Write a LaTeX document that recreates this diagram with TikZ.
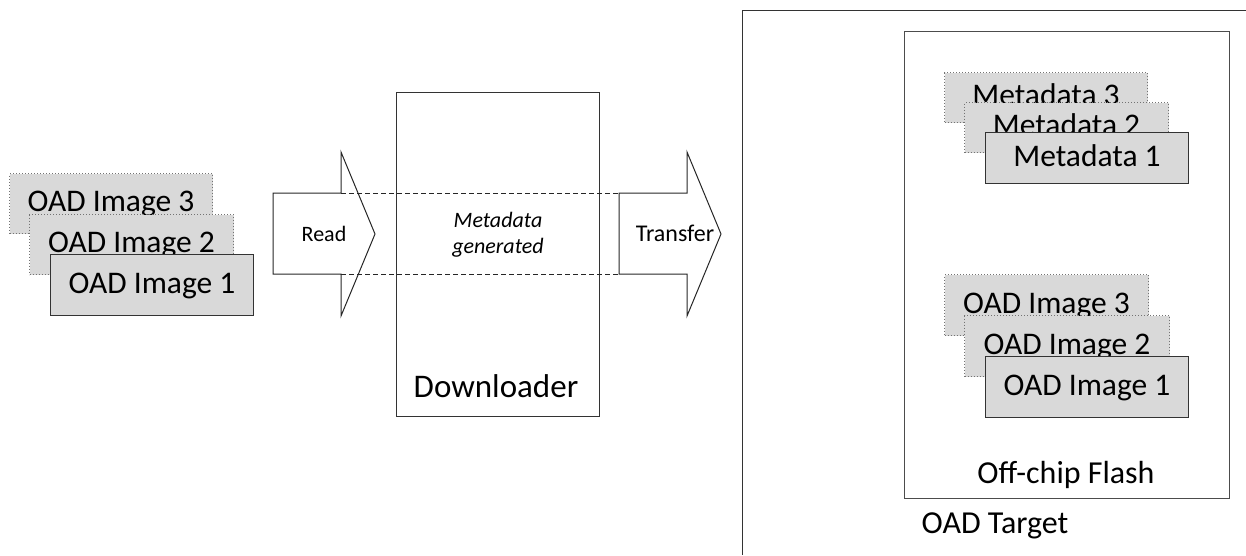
\documentclass[tikz,border=0pt]{standalone}
\usepackage{fontspec}
\setmainfont{Carlito}
\begin{document}
\begin{tikzpicture}[x=1pt,y=-1pt,
  line width=1pt,
  frontbox/.style={draw=black!80, fill=black!15, anchor=north west, inner sep=0pt,
     font=\fontsize{31.5}{36}\selectfont, text height=20pt, text depth=4pt},
  backbox/.style={frontbox, draw=black!55, dotted, line width=1pt},
  plainbox/.style={draw=black!80, anchor=north west, inner sep=0pt},
  lbl/.style={inner sep=0pt, font=\fontsize{32}{36}\selectfont},
  small/.style={inner sep=0pt, font=\fontsize{22}{26}\selectfont}
]
\useasboundingbox (0,0) rectangle (1246,555);

% left stack
\node[backbox, minimum width=203pt, minimum height=60pt] (l3) at (9,173) {OAD Image 3};
\node[backbox, minimum width=204pt, minimum height=60pt] (l2) at (29,214) {OAD Image 2};
\node[frontbox, minimum width=203pt, minimum height=61pt] (l1) at (50,254) {OAD Image 1};

% downloader
\node[plainbox, minimum width=203pt, minimum height=324pt] (dl) at (396,92) {};
\node[lbl, anchor=base, font=\fontsize{33}{36}\selectfont] (dltext) at (496,397) {Downloader};

% read arrow
\coordinate (ra) at (273,193);
\coordinate (rb) at (341,193);
\coordinate (rc) at (341,152);
\coordinate (rtip) at (375,234);
\coordinate (rd) at (341,316);
\coordinate (re) at (341,274);
\coordinate (rf) at (273,274);
\draw[black!85] (ra) -- (rb) -- (rc) -- (rtip) -- (rd) -- (re) -- (rf) -- cycle;
\node[small, anchor=base] (read) at (324,241) {Read};

% transfer arrow
\coordinate (ta) at (619,193);
\coordinate (tb) at (687,193);
\coordinate (tc) at (687,152);
\coordinate (ttip) at (721,234);
\coordinate (td) at (687,316);
\coordinate (te) at (687,274);
\coordinate (tf) at (619,274);
\draw[black!85] (ta) -- (tb) -- (tc) -- (ttip) -- (td) -- (te) -- (tf) -- cycle;
\node[small, anchor=base, font=\fontsize{24}{26}\selectfont] (transfer) at (675,241) {Transfer};

% dashed links
\draw[black!85, dash pattern=on 5pt off 3pt] (rb) -- (ta);
\draw[black!85, dash pattern=on 5pt off 3pt] (re) -- (tf);
\node[small, align=center, font=\fontsize{22}{26}\selectfont\itshape] (meta) at (498,235) {Metadata\\generated};

% OAD target
\draw[black!80] (1246,10) -- (742,10) -- (742,555);
\node[lbl, anchor=base] (target) at (995,533) {OAD Target};

% off-chip flash
\node[plainbox, draw=black!70, minimum width=325pt, minimum height=467pt] (flash) at (904,31) {};
\node[lbl, anchor=base] (flashtext) at (1066,483) {Off-chip Flash};

% metadata stack
\node[backbox, minimum width=203pt, minimum height=50pt] (m3) at (944,72) {Metadata 3};
\node[backbox, minimum width=204pt, minimum height=50pt] (m2) at (964,102) {Metadata 2};
\node[frontbox, minimum width=203pt, minimum height=51pt] (m1) at (985,132) {Metadata 1};

% image stack in flash
\node[backbox, minimum width=204pt, minimum height=61pt] (r3) at (944,274) {OAD Image 3};
\node[backbox, minimum width=205pt, minimum height=61pt] (r2) at (964,315) {OAD Image 2};
\node[frontbox, minimum width=203pt, minimum height=61pt] (r1) at (985,356) {OAD Image 1};
\end{tikzpicture}
\end{document}
